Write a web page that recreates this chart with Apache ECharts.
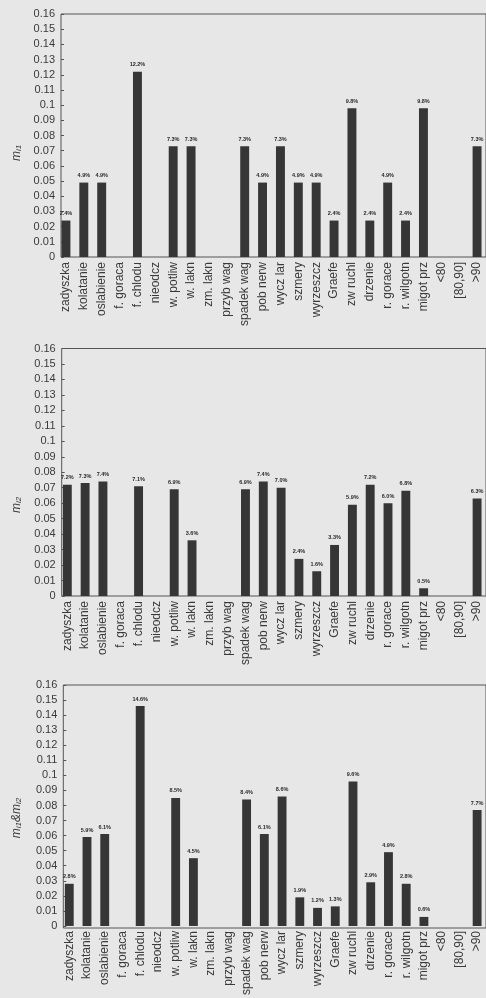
<!DOCTYPE html>
<html>
<head>
<meta charset="utf-8">
<script src="https://cdn.jsdelivr.net/npm/echarts@6/dist/echarts.min.js"></script>
<style>
  html, body { margin: 0; padding: 0; background: #e7e7e7; }
  #chart { width: 486px; height: 998px; }
</style>
</head>
<body>
<div id="chart"></div>
<script>
// Symptom categories shared by all three panels
const categories = [
  'zadyszka', 'kolatanie', 'oslabienie', 'f. goraca', 'f. chlodu', 'nieodcz',
  'w. potliw', 'w. lakn', 'zm. lakn', 'przyb wag', 'spadek wag', 'pob nerw',
  'wycz lar', 'szmery', 'wyrzeszcz', 'Graefe', 'zw ruchl', 'drzenie',
  'r. gorace', 'r. wilgotn', 'migot prz', '<80', '[80,90]', '>90'
];

// m_i1
const valuesM1 = [
  0.024, 0.049, 0.049, 0, 0.122, 0,
  0.073, 0.073, 0, 0, 0.073, 0.049,
  0.073, 0.049, 0.049, 0.024, 0.098, 0.024,
  0.049, 0.024, 0.098, 0, 0, 0.073
];

// m_i2
const valuesM2 = [
  0.072, 0.073, 0.074, 0, 0.071, 0,
  0.069, 0.036, 0, 0, 0.069, 0.074,
  0.070, 0.024, 0.016, 0.033, 0.059, 0.072,
  0.060, 0.068, 0.005, 0, 0, 0.063
];

// m_i1 & m_i2
const valuesM12 = [
  0.028, 0.059, 0.061, 0, 0.146, 0,
  0.085, 0.045, 0, 0, 0.084, 0.061,
  0.086, 0.019, 0.012, 0.013, 0.096, 0.029,
  0.049, 0.028, 0.006, 0, 0, 0.077
];

const yMin = 0, yMax = 0.16, yStep = 0.01;

const panels = [
  { values: valuesM1,  bandLeft: 57.0, bandWidth: 18.1,  axisX: 61.0, top: 14,    height: 243,   title: '{m|m}{s|i1}',            nameX: 17, nameY: 153 },
  { values: valuesM2,  bandLeft: 58.4, bandWidth: 18.27, axisX: 61.7, top: 348.5, height: 247.5, title: '{m|m}{s|i2}',            nameX: 17, nameY: 505 },
  { values: valuesM12, bandLeft: 60.4, bandWidth: 18.2,  axisX: 63.3, top: 685,   height: 243,   title: '{m|m}{s|i1}{m|&m}{s|i2}', nameX: 17, nameY: 818 }
];

const ink = '#3a3a3a';
const font = 'Liberation Sans, Arial, sans-serif';

const grid = [], xAxis = [], yAxis = [], series = [], graphic = [];

panels.forEach((p, i) => {
  const g = grid.length;
  // plotting grid: category bands
  grid.push({ left: p.bandLeft, top: p.top, width: p.bandWidth * categories.length, height: p.height, show: false });
  // frame grid: box starting at the y axis
  grid.push({ left: p.axisX, top: p.top, width: 520, height: p.height, show: true,
              borderColor: '#555', borderWidth: 1, backgroundColor: 'transparent' });

  xAxis.push({
    type: 'category', gridIndex: g, data: categories,
    axisLine: { show: false }, axisTick: { show: false },
    axisLabel: { interval: 0, rotate: 90, margin: 5, fontSize: 12, color: ink, fontFamily: font }
  });
  xAxis.push({ type: 'value', gridIndex: g + 1, show: false });

  yAxis.push({
    type: 'value', gridIndex: g, min: yMin, max: yMax, interval: yStep,
    offset: -(p.axisX - p.bandLeft),
    axisLine: { show: false },
    axisTick: { show: true, inside: true, length: 3, lineStyle: { color: '#555' } },
    axisLabel: { fontSize: 11, color: ink, fontFamily: font, margin: 6 },
    splitLine: { show: false }
  });
  yAxis.push({ type: 'value', gridIndex: g + 1, show: false });

  series.push({
    type: 'bar', xAxisIndex: g, yAxisIndex: g, data: p.values,
    barWidth: '50%', itemStyle: { color: '#363636' },
    label: {
      show: true, position: 'top', distance: 4,
      fontSize: 5.5, fontWeight: 'bold', color: '#2a2a2a', fontFamily: font,
      formatter: (d) => d.value > 0 ? (d.value * 100).toFixed(1) + '%' : ''
    }
  });

  graphic.push({
    type: 'text', x: p.nameX, y: p.nameY, rotation: Math.PI / 2,
    style: {
      text: p.title, align: 'center', verticalAlign: 'middle', fill: ink,
      rich: {
        m: { fontSize: 12, fontStyle: 'italic', fontFamily: font, fill: ink, verticalAlign: 'bottom' },
        s: { fontSize: 8, fontStyle: 'italic', fontFamily: font, fill: ink, verticalAlign: 'bottom', padding: [4, 0, 0, 0] }
      }
    }
  });
});

const chart = echarts.init(document.getElementById('chart'), null, { renderer: 'canvas' });
chart.setOption({
  backgroundColor: '#e7e7e7',
  animation: false,
  grid, xAxis, yAxis, series, graphic
});
</script>
</body>
</html>
